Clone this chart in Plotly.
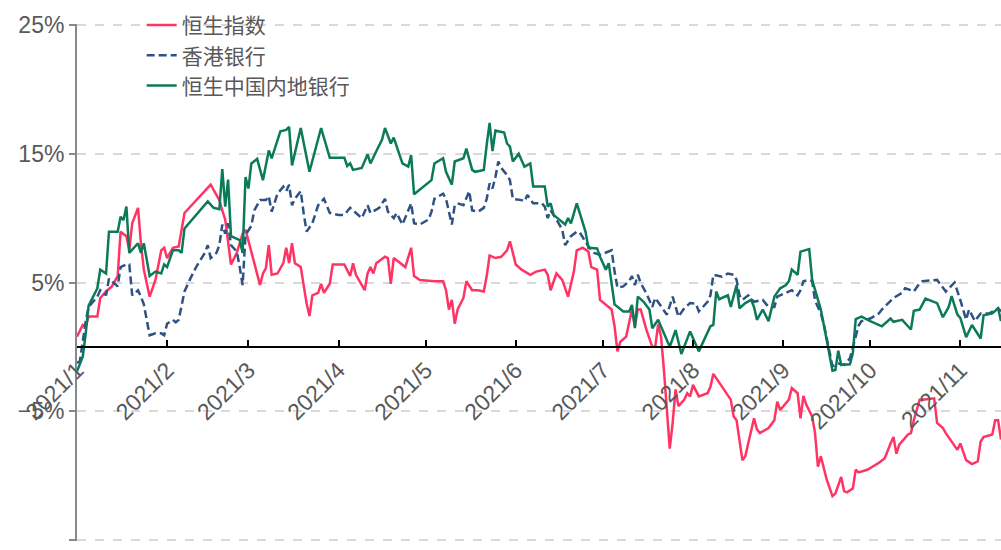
import plotly.graph_objects as go

# ---------------- data (cumulative return, %) ----------------
hsi_days = ["01-04","01-06","01-07","01-08","01-11","01-12","01-14","01-16","01-18","01-19","01-21","01-22","01-23","01-25","01-26","01-27","01-29","01-31",
"02-02","02-03","02-04","02-06","02-08","02-10","02-19","02-22","02-23","02-24","02-26","02-28",
"03-01","03-02","03-03","03-05","03-07","03-08","03-09","03-10","03-11","03-12","03-14","03-16","03-17","03-18","03-19","03-20","03-22","03-23","03-24","03-25","03-26","03-28","03-29","03-30",
"04-01","04-02","04-05","04-06","04-08","04-09","04-10","04-13","04-14","04-15","04-16","04-17","04-20","04-21","04-22","04-23","04-27","04-29","04-30",
"05-02","05-07","05-10","05-11","05-12","05-13","05-14","05-15","05-16","05-17","05-18","05-20","05-22","05-24","05-25","05-26","05-28","05-30",
"06-01","06-02","06-03","06-04","06-06","06-09","06-11","06-14","06-15","06-16","06-18","06-20","06-22","06-24","06-25","06-27","06-29","06-30",
"07-02","07-03","07-07","07-08","07-09","07-10","07-12","07-13","07-14","07-15","07-16","07-17","07-19","07-21","07-22","07-23","07-24","07-25","07-26","07-27","07-28","07-29","07-30",
"08-01","08-02","08-03","08-04","08-06","08-09","08-10","08-11","08-13","08-15","08-17","08-18","08-19","08-21","08-22","08-23","08-25","08-26","08-27","08-30",
"09-01","09-02","09-03","09-06","09-07","09-09","09-10","09-11","09-12","09-14","09-15","09-16","09-17","09-19","09-21","09-22","09-24","09-25","09-26","09-28","09-29","09-30",
"10-03","10-07","10-09","10-11","10-12","10-13","10-14","10-17","10-18","10-19","10-21","10-22","10-26","10-27","10-29","10-30",
"11-01","11-03","11-04","11-05","11-06","11-08","11-10","11-11","11-12","11-15","11-16","11-17","11-18"]
hsi_vals = [0.8,1.7,1.6,2.35,2.35,3.8,4.3,4.7,5.5,8.95,8.6,7.5,9.6,10.8,8.05,6.0,3.9,5.2,
7.5,7.7,6.9,7.7,7.8,10.4,12.6,11.4,10.6,9.9,6.4,7.3,
8.05,8.8,9.1,7.3,5.5,4.8,5.7,6.1,7.9,5.6,5.7,6.5,7.7,6.5,8.05,6.5,6.2,4.8,3.4,2.4,4.0,4.2,4.9,4.2,
4.9,6.4,6.4,6.4,5.5,6.5,5.6,4.4,5.7,6.2,5.7,6.5,7.0,6.9,4.9,6.9,6.2,7.7,5.5,
5.2,5.1,5.1,4.4,2.9,3.65,1.8,2.9,3.4,3.8,5.1,4.4,4.4,4.3,5.5,7.1,6.9,7.0,
7.5,8.2,7.3,6.4,6.0,5.6,5.85,6.0,5.6,4.4,5.7,5.2,3.9,5.85,7.5,7.7,7.4,6.2,
6.0,3.65,2.9,1.6,-0.35,0.4,0.8,1.8,2.9,1.6,2.9,2.9,1.3,0.0,0.0,1.75,0.8,-1.8,-4.9,-7.9,-5.9,-3.3,-4.6,
-4.1,-3.6,-3.85,-2.95,-3.85,-3.6,-3.1,-2.1,-2.8,-3.5,-4.1,-5.4,-5.7,-8.8,-8.5,-7.5,-5.55,-6.4,-6.7,-6.3,
-5.7,-4.25,-4.9,-4.1,-3.2,-3.6,-5.55,-3.8,-4.5,-5.4,-6.7,-9.3,-8.5,-10.3,-11.6,-11.4,-10.1,-11.2,-11.3,-11.0,-9.55,-9.75,
-9.55,-9.0,-8.65,-7.5,-7.0,-8.3,-7.6,-6.8,-6.7,-5.7,-4.1,-4.1,-4.0,-5.9,-6.3,-6.7,
-7.35,-8.0,-7.5,-8.1,-8.8,-9.1,-8.9,-7.35,-7.0,-6.8,-5.7,-5.7,-7.2]

hkb_days = ["01-04","01-05","01-07","01-08","01-11","01-12","01-14","01-15","01-18","01-19","01-21","01-22","01-23","01-25","01-26","01-27","01-28","01-29","01-31",
"02-02","02-03","02-04","02-06","02-07","02-08","02-10","02-12","02-14","02-17","02-18","02-19","02-21","02-22","02-23","02-24","02-25","02-26","02-28",
"03-01","03-02","03-03","03-05","03-06","03-08","03-10","03-11","03-12","03-14","03-16","03-17","03-18","03-19","03-20","03-22","03-23","03-24","03-26","03-28","03-30",
"04-01","04-04","04-06","04-08","04-10","04-12","04-14","04-15","04-18","04-20","04-21","04-23","04-24","04-26","04-28","04-29","04-30",
"05-02","05-05","05-06","05-07","05-10","05-11","05-12","05-13","05-14","05-15","05-17","05-19","05-20","05-22","05-24","05-25","05-26","05-27","05-28","05-29","05-30",
"06-01","06-02","06-03","06-06","06-07","06-08","06-10","06-13","06-14","06-15","06-16","06-18","06-20","06-21","06-23","06-25","06-26","06-29",
"07-01","07-03","07-05","07-07","07-08","07-09","07-11","07-13","07-14","07-15","07-16","07-17","07-19","07-21","07-22","07-24","07-26","07-28","07-30",
"08-01","08-03","08-05","08-06","08-09","08-10","08-11","08-14","08-16","08-18","08-19","08-20","08-21","08-23","08-25","08-28","08-30",
"09-01","09-02","09-05","09-07","09-09","09-10","09-11","09-13","09-14","09-15","09-17","09-18","09-21","09-23","09-25","09-27","09-30",
"10-01","10-04","10-07","10-08","10-12","10-15","10-16","10-18","10-19","10-21","10-22","10-27","10-30",
"11-02","11-04","11-06","11-07","11-09","11-11","11-14","11-17","11-18"]
hkb_vals = [-1.25,-1.1,2.0,3.1,3.9,4.4,4.0,5.3,4.7,6.2,6.4,6.4,4.0,4.4,3.9,3.3,2.1,0.9,1.05,
1.05,0.9,1.8,2.1,1.9,2.1,4.3,5.3,6.2,7.3,7.9,6.9,7.3,7.9,9.5,8.8,9.6,7.9,7.4,
6.2,4.8,8.7,9.4,10.6,11.4,11.4,11.7,10.5,11.9,12.45,12.1,12.6,11.0,11.5,12.1,10.4,8.95,9.6,11.0,11.5,
10.4,10.25,10.25,10.8,10.4,10.0,11.0,10.4,10.8,11.5,10.5,10.0,10.4,9.5,10.6,11.15,9.6,
9.5,9.9,10.5,11.5,11.9,11.5,10.6,9.5,11.0,11.15,11.0,12.1,10.6,10.5,10.8,11.5,12.7,12.3,13.2,14.4,13.9,
13.35,12.95,11.5,11.4,11.3,11.8,11.15,11.15,10.9,10.0,10.6,9.9,9.1,7.9,8.6,8.95,8.9,7.8,
7.3,7.15,7.3,7.5,5.85,4.6,4.7,5.1,5.5,4.8,5.6,4.95,4.15,3.1,3.8,3.1,2.5,3.9,2.35,
3.0,3.4,3.35,2.75,3.5,4.0,5.6,5.45,5.7,5.6,5.2,4.0,3.65,4.0,3.5,3.65,3.1,
3.1,3.9,4.2,4.4,4.0,4.4,5.1,5.2,5.1,3.6,2.6,1.8,-1.5,-1.3,-1.4,-0.9,1.65,
2.0,2.2,2.6,2.9,3.8,4.2,4.55,4.4,4.3,4.95,5.1,5.2,4.3,
5.0,3.65,2.1,2.9,2.0,2.6,2.6,3.0,2.75]

cnb_days = ["01-04","01-06","01-07","01-08","01-11","01-12","01-14","01-15","01-18","01-19","01-20","01-21","01-22","01-25","01-26","01-27","01-29","01-31",
"02-02","02-03","02-04","02-06","02-08","02-09","02-10","02-18","02-20","02-22","02-23","02-24","02-25","02-26",
"03-01","03-02","03-03","03-04","03-05","03-07","03-09","03-11","03-12","03-15","03-17","03-18","03-19","03-22","03-25","03-29",
"04-01","04-06","04-07","04-08","04-09","04-12","04-14","04-15","04-17","04-19","04-20","04-22","04-23","04-26","04-28","04-29","04-30",
"05-06","05-07","05-10","05-11","05-13","05-14","05-17","05-18","05-20","05-21","05-24","05-25","05-26","05-27","05-28","05-31",
"06-01","06-02","06-03","06-05","06-07","06-09","06-10","06-14","06-15","06-16","06-17","06-21","06-22","06-23","06-25","06-28","06-29",
"07-02","07-03","07-05","07-06","07-08","07-11","07-13","07-14","07-15","07-16","07-18","07-20","07-21","07-23","07-25","07-27","07-29","07-31",
"08-03","08-06","08-10","08-11","08-12","08-13","08-16","08-17","08-19","08-20","08-22","08-24","08-25","08-26","08-28","08-30",
"09-01","09-03","09-05","09-06","09-07","09-09","09-10","09-13","09-14","09-15","09-17","09-19","09-21","09-22","09-23","09-24","09-27","09-28","09-29",
"10-01","10-04","10-08","10-11","10-12","10-15","10-18","10-19","10-21","10-23","10-27","10-29","10-31",
"11-01","11-03","11-04","11-06","11-08","11-11","11-12","11-15","11-17","11-18"]
cnb_vals = [-1.9,-0.75,1.05,3.2,4.55,6.0,5.7,8.95,8.95,10.1,9.85,10.9,7.3,8.05,7.3,8.05,5.5,5.85,
5.7,6.4,6.2,7.5,7.5,7.3,9.2,11.3,10.8,10.7,13.8,10.9,13.0,8.6,
8.3,7.3,13.2,12.3,14.25,14.6,12.95,15.25,14.65,16.75,16.85,17.1,14.1,17.0,13.6,17.0,
14.7,14.7,14.05,14.25,13.75,13.9,14.95,14.25,15.2,16.1,17.0,15.8,16.25,14.25,14.0,14.9,11.85,
12.95,14.25,14.65,13.6,12.6,14.4,14.65,15.4,13.75,13.6,13.75,15.7,17.4,15.2,16.8,16.65,
15.8,15.55,14.4,15.0,14.0,14.25,12.45,12.45,10.9,11.15,10.25,9.5,10.0,9.6,11.15,8.95,7.7,
7.65,7.0,6.0,6.5,3.3,2.75,2.75,3.25,1.45,3.9,3.5,2.9,1.45,2.1,1.05,0.0,1.3,-0.55,
1.2,-0.35,1.6,1.7,4.3,3.7,4.0,3.1,4.8,3.0,3.4,3.65,3.1,2.1,2.9,2.0,
3.9,4.55,4.8,5.1,6.0,5.6,7.4,7.6,5.2,4.4,2.9,0.55,-1.85,-1.8,-0.3,-1.4,-1.35,-0.5,2.15,
2.35,2.0,1.6,2.2,1.95,2.1,1.35,2.8,2.9,3.75,3.4,2.3,3.1,
3.95,2.5,2.25,0.75,1.7,0.65,2.45,2.6,3.0,2.0]

series_names = ["恒生指数", "香港银行", "恒生中国内地银行"]
y_tickvals = [-15, -5, 5, 15, 25]
y_ticktext = ["−15%", "−5%", "5%", "15%", "25%"]
x_range = ["2021-01-04", "2021-11-18"]
y_range = [-15.08, 25.08]

# ---------------- figure ----------------
def full(days):
    return ["2021-" + d for d in days]

fig = go.Figure()
fig.add_trace(go.Scatter(x=full(hsi_days), y=hsi_vals, mode="lines", name=series_names[0],
                         line=dict(color="#FF3465", width=2.5), legendgroup="a"))
fig.add_trace(go.Scatter(x=full(hkb_days), y=hkb_vals, mode="lines", name=series_names[1],
                         line=dict(color="#2D5283", width=2.5, dash="8px,4px"), legendgroup="b"))
fig.add_trace(go.Scatter(x=full(cnb_days), y=cnb_vals, mode="lines", name=series_names[2],
                         line=dict(color="#0B7A58", width=2.5), legendgroup="c"))

zero_pos = (0 - y_range[0]) / (y_range[1] - y_range[0])

fig.update_layout(
    width=1001, height=550,
    margin=dict(l=77, r=0, t=24, b=9),
    paper_bgcolor="white", plot_bgcolor="white",
    font=dict(family="Liberation Sans, Arial, sans-serif", color="#595959"),
    showlegend=True,
    legend=dict(x=0.07, y=1.037, xanchor="left", yanchor="top",
                bgcolor="rgba(0,0,0,0)", traceorder="normal", tracegroupgap=16,
                font=dict(size=21, color="#595959", family="Noto Sans CJK SC")),
    hovermode=False,
)
fig.update_yaxes(range=y_range, tickvals=y_tickvals, ticktext=y_ticktext,
                 showgrid=True, gridcolor="#d9d9d9", gridwidth=2, griddash="dash",
                 zeroline=False, showline=True, linecolor="#888888", linewidth=2,
                 ticks="outside", ticklen=6, tickwidth=2, tickcolor="#888888",
                 tickfont=dict(size=23, color="#595959"))
fig.update_xaxes(type="date", range=x_range, tick0="2021-01-04", dtick="M1",
                 tickformat="%Y/%-m", tickangle=-45,
                 anchor="free", position=zero_pos,
                 showline=True, linecolor="black", linewidth=1.5,
                 ticks="inside", ticklen=6, tickwidth=1.5, tickcolor="black",
                 showgrid=False, zeroline=False,
                 tickfont=dict(size=23, color="#595959"))

fig.write_html("out.html", config={"displayModeBar": False},
               post_script="document.body.style.margin='0';document.body.style.overflow='hidden';")
